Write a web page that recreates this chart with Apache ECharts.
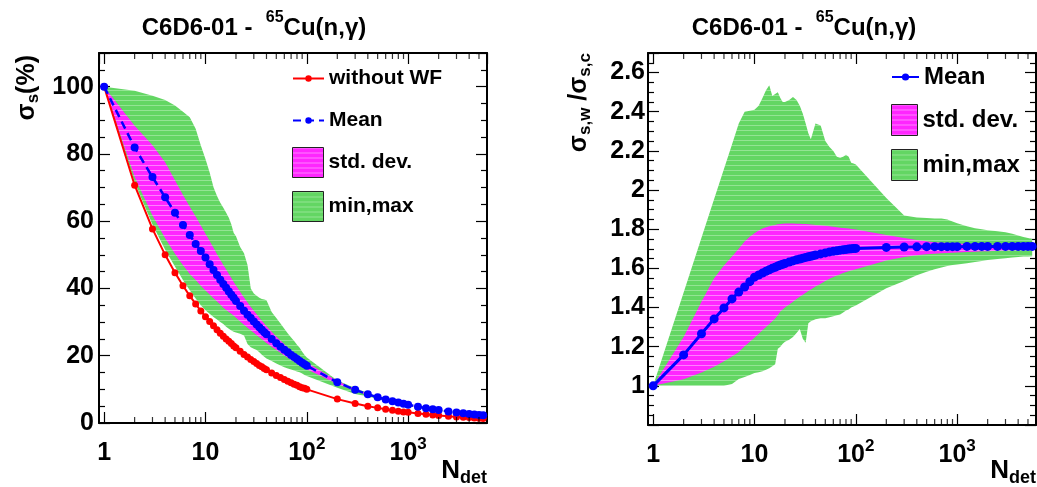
<!DOCTYPE html>
<html>
<head>
<meta charset="utf-8">
<script src="https://cdn.jsdelivr.net/npm/echarts@6/dist/echarts.min.js"></script>
<style>
  html, body { margin: 0; padding: 0; background: #fff; }
  #chart { width: 1037px; height: 487px; }
</style>
</head>
<body>
<div id="chart"></div>
<script>
// detector multiplicities (x axis, log scale)
const nDet = [1, 2, 3, 4, 5, 6, 7, 8, 9, 10,
  11, 12, 13, 14, 15, 16, 17, 18, 19, 20,
  22, 24, 26, 28, 30, 32, 34, 36, 38, 40,
  45, 50, 55, 60, 65, 70, 75, 80, 85, 90, 95, 100,
  200, 300, 400, 500, 600, 700, 800, 900, 1000,
  1250, 1500, 1750, 2000, 2500, 3000, 3500, 4000, 4500, 5000, 5500];

// left panel: sigma_s (%)
const sigmaNoWF = [100, 70.7, 57.7, 50.0, 44.7, 40.8, 37.8, 35.4, 33.3, 31.6,
  30.2, 28.9, 27.7, 26.7, 25.8, 25.0, 24.3, 23.6, 22.9, 22.4,
  21.3, 20.4, 19.6, 18.9, 18.3, 17.7, 17.1, 16.7, 16.2, 15.8,
  14.9, 14.1, 13.5, 12.9, 12.4, 12.0, 11.5, 11.2, 10.8, 10.5, 10.3, 10.0,
  7.1, 5.8, 5.0, 4.5, 4.1, 3.8, 3.5, 3.3, 3.2,
  2.8, 2.6, 2.4, 2.2, 2.0, 1.8, 1.7, 1.6, 1.5, 1.4, 1.35];
const sigmaMean = [100, 81.9, 73.1, 67.1, 62.5, 58.9, 55.9, 53.2, 51.1, 49.2,
  47.2, 45.5, 44.0, 42.6, 41.3, 40.2, 39.1, 38.1, 37.2, 36.3,
  34.8, 33.4, 32.2, 31.2, 30.2, 29.3, 28.5, 27.7, 27.0, 26.4,
  25.0, 23.7, 22.7, 21.8, 21.0, 20.2, 19.6, 19.0, 18.4, 17.9, 17.5, 17.0,
  12.1, 9.86, 8.55, 7.65, 6.98, 6.47, 6.06, 5.70, 5.41,
  4.84, 4.42, 4.09, 3.83, 3.42, 3.13, 2.89, 2.70, 2.55, 2.41, 2.31];
const sigmaSdLo = [100, 73.1, 61.7, 54.9, 50.3, 46.9, 44.3, 42.5, 40.8, 39.4,
  38.2, 37.1, 36.1, 35.2, 34.3, 33.6, 33.0, 32.5, 31.9, 31.3,
  30.2, 29.2, 28.3, 27.5, 26.8, 26.1, 25.5, 24.9, 24.3, 23.8,
  22.7, 21.7, 20.9, 20.1, 19.4, 18.8, 18.2, 17.7, 17.2, 16.7, 16.3, 15.95,
  11.6, 9.57, 8.34, 7.47, 6.83, 6.34, 5.94, 5.59, 5.31,
  4.76, 4.35, 4.03, 3.78, 3.38, 3.09, 2.86, 2.67, 2.52, 2.39, 2.29];
const sigmaSdHi = [100, 88.4, 82.6, 77.5, 72.2, 67.8, 64.3, 61.4, 58.7, 56.3,
  54.1, 52.1, 50.2, 48.5, 47.0, 45.6, 44.3, 43.1, 41.9, 40.9,
  39.0, 37.3, 35.8, 34.5, 33.4, 32.3, 31.3, 30.4, 29.6, 28.8,
  27.1, 25.7, 24.5, 23.4, 22.4, 21.6, 20.9, 20.2, 19.6, 19.0, 18.5, 18.0,
  12.5, 10.1, 8.73, 7.77, 7.07, 6.54, 6.12, 5.75, 5.46,
  4.88, 4.45, 4.12, 3.85, 3.44, 3.14, 2.90, 2.71, 2.56, 2.42, 2.32];
const sigmaMin = [100, 71.5, 59.0, 51.5, 46.5, 42.5, 39.5, 37.0, 35.0, 33.5,
  32.5, 31.5, 30.8, 30.0, 29.4, 28.6, 28.0, 27.5, 27.1, 26.9,
  26.5, 26.0, 23.5, 22.5, 22.1, 21.7, 21.0, 20.3, 19.7, 19.2,
  18.4, 17.7, 17.1, 16.6, 16.2, 15.9, 15.6, 15.3, 15.1, 14.7, 14.3, 14.0,
  10.5, 8.6, 7.9, 7.2, 6.65, 6.2, 5.85, 5.55, 5.3,
  4.72, 4.32, 4.0, 3.75, 3.35, 3.07, 2.84, 2.65, 2.5, 2.37, 2.27];
const sigmaMax = [100, 98.8, 97.3, 96.0, 94.4, 92.5, 90.9, 87.5, 82.5, 78.5,
  74.5, 70.1, 67.5, 65.5, 64.0, 62.5, 61.0, 59.0, 56.5, 55.5,
  52.3, 50.5, 47.0, 40.0, 38.5, 37.8, 37.2, 36.9, 36.7, 36.5,
  33.0, 31.2, 29.6, 28.0, 26.6, 25.4, 24.4, 23.3, 22.4, 21.2, 20.2, 19.5,
  12.6, 10.4, 8.9, 7.9, 7.15, 6.6, 6.18, 5.8, 5.5,
  4.92, 4.48, 4.15, 3.88, 3.46, 3.16, 2.92, 2.72, 2.57, 2.43, 2.33];

// right panel: sigma_s,w / sigma_s,c
const ratioMean = [1.000, 1.158, 1.266, 1.342, 1.398, 1.444, 1.479, 1.505, 1.532, 1.555,
  1.566, 1.576, 1.585, 1.593, 1.600, 1.606, 1.612, 1.617, 1.621, 1.625,
  1.632, 1.638, 1.644, 1.648, 1.652, 1.656, 1.659, 1.662, 1.665, 1.668,
  1.674, 1.679, 1.684, 1.687, 1.690, 1.693, 1.695, 1.697, 1.699, 1.700, 1.701, 1.702,
  1.707, 1.709, 1.710, 1.711, 1.711, 1.711, 1.711, 1.711, 1.711,
  1.712, 1.712, 1.712, 1.712, 1.712, 1.712, 1.712, 1.712, 1.712, 1.712, 1.712];
const ratioSdLo = [1.000, 1.034, 1.068, 1.097, 1.125, 1.150, 1.173, 1.202, 1.225, 1.246,
  1.266, 1.284, 1.300, 1.316, 1.330, 1.345, 1.360, 1.380, 1.390, 1.400,
  1.416, 1.430, 1.443, 1.455, 1.465, 1.475, 1.484, 1.492, 1.500, 1.508,
  1.522, 1.535, 1.547, 1.556, 1.564, 1.570, 1.576, 1.581, 1.585, 1.589, 1.592, 1.595,
  1.640, 1.658, 1.667, 1.672, 1.675, 1.677, 1.679, 1.680, 1.681,
  1.683, 1.685, 1.687, 1.688, 1.690, 1.691, 1.692, 1.693, 1.694, 1.695, 1.696];
const ratioSdHi = [1.000, 1.250, 1.430, 1.550, 1.615, 1.660, 1.700, 1.737, 1.762, 1.780,
  1.793, 1.803, 1.810, 1.815, 1.819, 1.822, 1.825, 1.827, 1.828, 1.829,
  1.829, 1.829, 1.828, 1.828, 1.827, 1.826, 1.825, 1.824, 1.823, 1.822,
  1.820, 1.818, 1.815, 1.812, 1.810, 1.808, 1.806, 1.805, 1.803, 1.801, 1.800, 1.798,
  1.770, 1.755, 1.745, 1.738, 1.734, 1.731, 1.729, 1.728, 1.727,
  1.725, 1.724, 1.722, 1.720, 1.718, 1.717, 1.716, 1.715, 1.714, 1.714, 1.713];
const ratioMin = [1.000, 1.000, 1.000, 1.000, 1.000, 1.010, 1.035, 1.045, 1.055, 1.065,
  1.070, 1.075, 1.082, 1.090, 1.100, 1.110, 1.190, 1.200, 1.215, 1.225,
  1.235, 1.250, 1.270, 1.290, 1.240, 1.220, 1.320, 1.330, 1.335, 1.340,
  1.345, 1.345, 1.350, 1.355, 1.360, 1.365, 1.375, 1.385, 1.390, 1.400, 1.405, 1.410,
  1.498, 1.536, 1.565, 1.583, 1.595, 1.605, 1.612, 1.617, 1.620,
  1.626, 1.632, 1.637, 1.643, 1.648, 1.652, 1.655, 1.658, 1.660, 1.661, 1.662];
const ratioMax = [1.000, 1.477, 1.756, 1.954, 2.108, 2.233, 2.340, 2.400, 2.405, 2.410,
  2.430, 2.470, 2.510, 2.535, 2.480, 2.490, 2.500, 2.470, 2.450, 2.450,
  2.460, 2.475, 2.460, 2.430, 2.390, 2.340, 2.290, 2.260, 2.300, 2.340,
  2.330, 2.250, 2.220, 2.200, 2.170, 2.165, 2.170, 2.180, 2.170, 2.140, 2.135, 2.130,
  1.960, 1.870, 1.860, 1.857, 1.855, 1.855, 1.850, 1.840, 1.830,
  1.815, 1.805, 1.800, 1.795, 1.790, 1.785, 1.777, 1.768, 1.760, 1.755, 1.750];

// minor tick positions on the log axes (2..9 of each decade)
const minorTicks = [2, 3, 4, 5, 6, 7, 8, 9, 20, 30, 40, 50, 60, 70, 80, 90,
  200, 300, 400, 500, 600, 700, 800, 900, 2000, 3000, 4000, 5000];

const FONT = 'Liberation Sans, Arial, Helvetica, sans-serif';
const X_MIN = 0.89, X_MAX = 6000;
const GREEN = '#63d663', MAGENTA = '#ff26ff';

// ROOT-like fill with faint horizontal stripes
function stripes(base, line) {
  const c = document.createElement('canvas');
  c.width = 4; c.height = 5;
  const ctx = c.getContext('2d');
  ctx.fillStyle = base; ctx.fillRect(0, 0, 4, 5);
  ctx.fillStyle = line; ctx.fillRect(0, 0, 4, 1);
  return { image: c, repeat: 'repeat' };
}
const greenFill = stripes(GREEN, '#93e493');
const magentaFill = stripes(MAGENTA, '#ff80ff');

const pts = arr => nDet.map((n, i) => [n, arr[i]]);

const xLabel = v => {
  const e = Math.round(Math.log10(v));
  return e < 2 ? '{b|' + Math.round(v) + '}' : '{b|10}{e|' + e + '}';
};
const labelRich = {
  b: { fontSize: 25, fontWeight: 'bold', fontFamily: FONT, color: '#000', verticalAlign: 'bottom', lineHeight: 30 },
  e: { fontSize: 17, fontWeight: 'bold', fontFamily: FONT, color: '#000', verticalAlign: 'top', lineHeight: 17 }
};

const tickStyle = { color: '#000', width: 1.2 };

function xAxes(gridIndex) {
  const common = {
    type: 'log', logBase: 10, min: X_MIN, max: X_MAX, gridIndex,
    splitLine: { show: false },
    axisLine: { show: true, onZero: false, lineStyle: { color: '#000', width: 2 } },
    axisTick: { show: true, inside: true, length: 11, lineStyle: tickStyle },
    minorTick: { show: false }
  };
  return [
    { ...common, position: 'bottom',
      axisLabel: { margin: 13, formatter: xLabel, rich: labelRich, showMinLabel: false, showMaxLabel: false } },
    { ...common, position: 'top', axisLabel: { show: false } }
  ];
}

function yAxes(gridIndex, min, max, interval, margin, showMin) {
  const common = {
    type: 'value', gridIndex, min, max, interval,
    splitLine: { show: false },
    axisLine: { show: true, onZero: false, lineStyle: { color: '#000', width: 2 } },
    axisTick: { show: true, inside: true, length: 11, lineStyle: tickStyle },
    minorTick: { show: true, splitNumber: 4, length: 6, lineStyle: tickStyle }
  };
  return [
    { ...common, position: 'left',
      axisLabel: { margin, color: '#000', fontSize: 25, fontWeight: 'bold', fontFamily: FONT,
        showMinLabel: showMin, showMaxLabel: false } },
    { ...common, position: 'right', axisLabel: { show: false } }
  ];
}

// filled band between lo and hi, drawn as one polygon through the axis scales
function band(name, lo, hi, xi, yi, fill, color) {
  return {
    type: 'custom', name, xAxisIndex: xi, yAxisIndex: yi, silent: true,
    itemStyle: { color },
    data: nDet.map((n, i) => [n, lo[i], hi[i]]),
    encode: { x: 0, y: [1, 2] },
    renderItem(params, api) {
      if (params.dataIndex !== 0) return null;
      const upper = nDet.map((n, i) => api.coord([n, hi[i]]));
      const lower = nDet.map((n, i) => api.coord([n, lo[i]])).reverse();
      return { type: 'polygon', shape: { points: upper.concat(lower) }, style: { fill, stroke: null } };
    }
  };
}

function minorTickSeries(xi, yi, yBottom, yTop) {
  const base = { type: 'scatter', xAxisIndex: xi, yAxisIndex: yi, symbol: 'rect', symbolSize: [1.2, 6],
    itemStyle: { color: '#000' }, silent: true, clip: false, z: 5 };
  return [
    { ...base, data: minorTicks.map(v => [v, yBottom]), symbolOffset: [0, -3] },
    { ...base, data: minorTicks.map(v => [v, yTop]), symbolOffset: [0, 3] }
  ];
}

const boxLegend = (name, fill) => ({ name, icon: 'rect', itemStyle: { color: fill, borderColor: '#222', borderWidth: 1 } });
const legendText = size => ({ fontSize: size, fontWeight: 'bold', color: '#000', fontFamily: FONT });

const titleRich = {
  t: { fontSize: 24, fontWeight: 'bold', fontFamily: FONT, fill: '#000', verticalAlign: 'bottom', lineHeight: 30 },
  u: { fontSize: 16, fontWeight: 'bold', fontFamily: FONT, fill: '#000', verticalAlign: 'top', lineHeight: 16 }
};
const nRich = {
  n: { fontSize: 26, fontWeight: 'bold', fontFamily: FONT, fill: '#000', verticalAlign: 'middle', lineHeight: 32 },
  d: { fontSize: 18, fontWeight: 'bold', fontFamily: FONT, fill: '#000', verticalAlign: 'bottom', lineHeight: 18 }
};
const textAnchor = (h, v) => ({ align: h, verticalAlign: v, textAlign: h, textVerticalAlign: v });

const chart = echarts.init(document.getElementById('chart'));

const option = {
  animation: false,
  backgroundColor: '#fff',
  textStyle: { fontFamily: FONT },
  grid: [
    { left: 99, top: 53, width: 388, height: 370, containLabel: false, outerBoundsMode: 'none' },
    { left: 648, top: 53, width: 388, height: 372, containLabel: false, outerBoundsMode: 'none' }
  ],
  xAxis: [...xAxes(0), ...xAxes(1)],
  yAxis: [...yAxes(0, 0, 110, 20, 5, true), ...yAxes(1, 0.8, 2.7, 0.2, 3, false)],
  legend: [
    { data: ['without WF', 'Mean'], orient: 'vertical', left: 287, top: 63,
      itemWidth: 31, itemHeight: 8, itemGap: 21, selectedMode: false, textStyle: legendText(21) },
    { data: [boxLegend('std. dev.', magentaFill), boxLegend('min,max', greenFill)], orient: 'vertical',
      left: 287, top: 142, itemWidth: 31, itemHeight: 30, itemGap: 13, selectedMode: false, textStyle: legendText(21) },
    { data: ['Mean '], orient: 'vertical', left: 886, top: 60,
      itemWidth: 27, itemHeight: 9, selectedMode: false, textStyle: legendText(24) },
    { data: [boxLegend('std. dev. ', magentaFill), boxLegend('min,max ', greenFill)], orient: 'vertical',
      left: 886, top: 99, itemWidth: 26, itemHeight: 31, itemGap: 13, selectedMode: false, textStyle: legendText(24) }
  ],
  series: [
    band('min,max', sigmaMin, sigmaMax, 0, 0, greenFill, GREEN),
    band('std. dev.', sigmaSdLo, sigmaSdHi, 0, 0, magentaFill, MAGENTA),
    { type: 'line', name: 'without WF', xAxisIndex: 0, yAxisIndex: 0, data: pts(sigmaNoWF),
      symbol: 'circle', symbolSize: 7, lineStyle: { color: '#ff0000', width: 2 }, itemStyle: { color: '#ff0000' } },
    { type: 'line', name: 'Mean', xAxisIndex: 0, yAxisIndex: 0, data: pts(sigmaMean),
      symbol: 'circle', symbolSize: 8, lineStyle: { color: '#0000ff', width: 2.5, type: [8, 5] }, itemStyle: { color: '#0000ff' } },
    band('min,max ', ratioMin, ratioMax, 2, 2, greenFill, GREEN),
    band('std. dev. ', ratioSdLo, ratioSdHi, 2, 2, magentaFill, MAGENTA),
    { type: 'line', name: 'Mean ', xAxisIndex: 2, yAxisIndex: 2, data: pts(ratioMean),
      symbol: 'circle', symbolSize: 9, lineStyle: { color: '#0000ff', width: 3 }, itemStyle: { color: '#0000ff' } },
    ...minorTickSeries(0, 0, 0, 110),
    ...minorTickSeries(2, 2, 0.8, 2.7)
  ],
  graphic: [
    { type: 'text', x: 254, y: 25, style: { text: '{t|C6D6-01 -  }{u|65}{t|Cu(n,γ)}', rich: titleRich, ...textAnchor('center', 'middle') } },
    { type: 'text', x: 804, y: 25, style: { text: '{t|C6D6-01 -  }{u|65}{t|Cu(n,γ)}', rich: titleRich, ...textAnchor('center', 'middle') } },
    // y axis titles, rotated
    { type: 'text', x: 27, y: 55, rotation: Math.PI / 2, style: {
      text: '{a|σ}{s|s}{a|(%)}', ...textAnchor('right', 'middle'),
      rich: {
        a: { fontSize: 25, fontWeight: 'bold', fontFamily: FONT, fill: '#000', verticalAlign: 'middle', lineHeight: 30 },
        s: { fontSize: 17, fontWeight: 'bold', fontFamily: FONT, fill: '#000', verticalAlign: 'bottom', lineHeight: 17 }
      } } },
    { type: 'text', x: 579, y: 53, rotation: Math.PI / 2, style: {
      text: '{a|σ}{s|s,w}{a| /σ}{s|s,c}', ...textAnchor('right', 'middle'),
      rich: {
        a: { fontSize: 25, fontWeight: 'bold', fontFamily: FONT, fill: '#000', verticalAlign: 'middle', lineHeight: 30 },
        s: { fontSize: 17, fontWeight: 'bold', fontFamily: FONT, fill: '#000', verticalAlign: 'bottom', lineHeight: 17 }
      } } },
    // x axis titles
    { type: 'text', x: 487, y: 471, style: { text: '{n|N}{d|det}', rich: nRich, ...textAnchor('right', 'middle') } },
    { type: 'text', x: 1036, y: 471, style: { text: '{n|N}{d|det}', rich: nRich, ...textAnchor('right', 'middle') } }
  ]
};

chart.setOption(option);
window.addEventListener('resize', () => chart.resize());
</script>
</body>
</html>
